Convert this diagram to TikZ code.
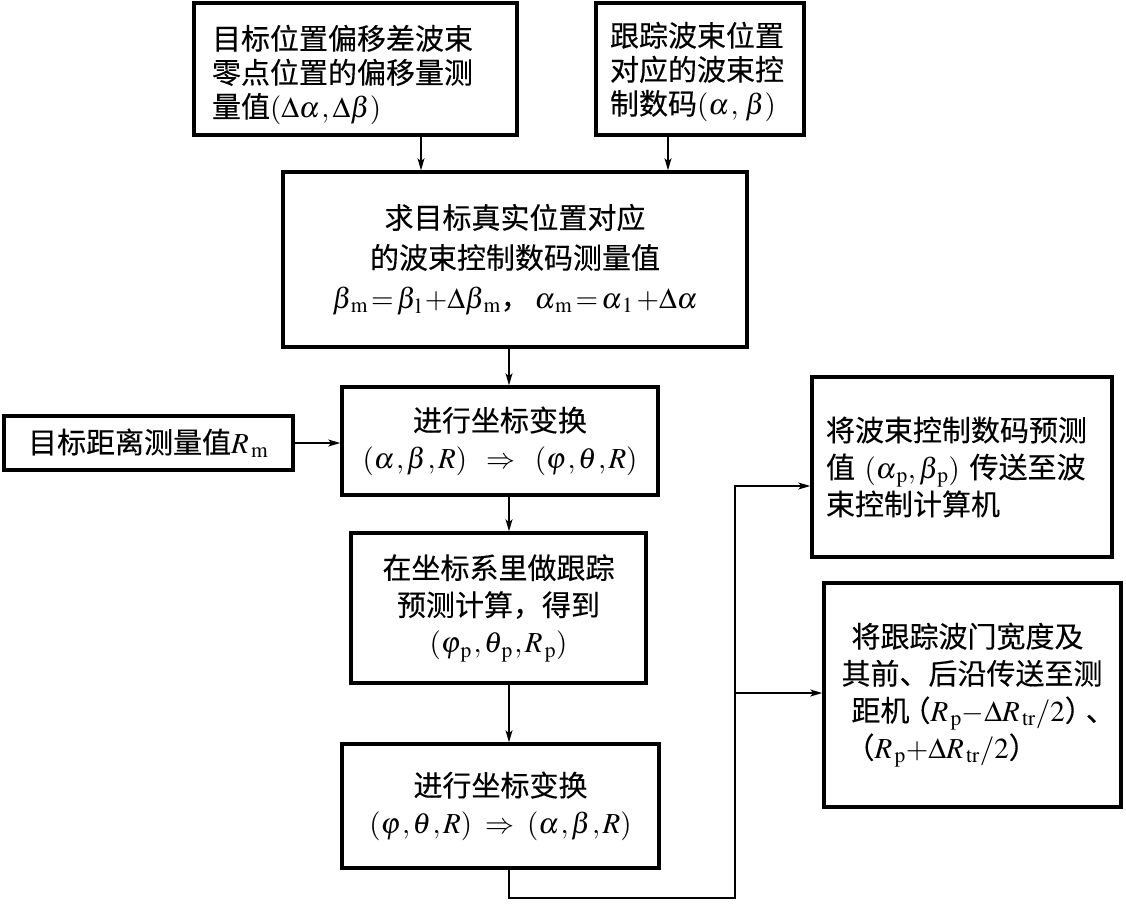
\documentclass[tikz,border=0pt]{standalone}
\usepackage{mathptmx}
\usepackage{fontspec}
\setmainfont{Liberation Serif}
\newfontfamily\cjk[FakeBold=0.3]{Noto Sans CJK SC}
\usetikzlibrary{positioning,arrows.meta}
\newcommand\lowidx[1]{_{\mkern2mu\mathrm{#1}}}
\newcommand\tcomma{\mkern1mu{,}\mkern1.5mu}

\begin{document}
\begin{tikzpicture}[
    x=1pt, y=-1pt,
    box/.style={
        draw,
        rectangle,
        line width=3.5pt,
        inner xsep=14pt,
        align=center,
        font=\cjk\fontsize{29}{37}\selectfont
    },
    arrow/.style={-{Stealth[length=12pt,width=7pt,inset=3pt]}, line width=1.3pt}
]
\useasboundingbox (0,0) rectangle (1126,903);

\node[box, minimum width=323pt, minimum height=132pt, text width=287pt, align=left,
    font=\cjk\fontsize{29}{34}\selectfont] (offset) at (355.5,69) {
\rule{0pt}{36pt}目标位置偏移差波束\\
零点位置的偏移量测\\
量值$(\Delta\alpha\mkern1mu,\Delta\beta)$
};

\node[box, minimum width=206pt, minimum height=132pt, text width=180pt, align=left,
    font=\cjk\fontsize{29}{34}\selectfont] (beamcode) at (700,69) {
\rule{0pt}{30pt}跟踪波束位置\\
对应的波束控\\
制数码$(\alpha\mkern1mu,\,\beta)$
};

\node[box, minimum width=464pt, minimum height=175pt,
    font=\cjk\fontsize{29}{40}\selectfont] (measure) at (515,259.5) {
求目标真实位置对应\\
的波束控制数码测量值\\
$\beta\lowidx{m}\mkern2mu{=}\mkern2mu\beta\lowidx{l}\mkern2mu{+}\Delta\beta\lowidx{m}$，\,$\alpha\lowidx{m}\mkern2mu{=}\mkern2mu\alpha\lowidx{1}\mkern2mu{+}\Delta\alpha$
};

\node[box, minimum width=289pt, minimum height=54pt] (range) at (148.5,443) {
\hspace*{6pt}目标距离测量值$R\lowidx{m}$
};

\node[box, minimum width=316pt, minimum height=108pt] (convert) at (500,441) {
进行坐标变换\\
$(\alpha\tcomma\beta\tcomma R)\;~\Rightarrow~\;(\varphi\tcomma\theta\tcomma R)$
};

\node[box, minimum width=295pt, minimum height=150pt] (predict) at (498.5,608) {
在坐标系里做跟踪\\
预测计算，得到\\
$(\varphi\lowidx{p}\tcomma\theta\lowidx{p}\tcomma R\lowidx{p})$
};

\node[box, minimum width=317pt, minimum height=124pt] (reconvert) at (500.5,806) {
进行坐标变换\\
$(\varphi\tcomma\theta\tcomma R)~\Rightarrow~(\alpha\tcomma\beta\tcomma R)$
};

\node[box, minimum width=298pt, minimum height=180pt, text width=272pt, align=left] (sendbeam) at (962,467) {
将波束控制数码预测\\
值~$(\alpha\lowidx{p},\beta\lowidx{p})$~传送至波\\
束控制计算机
};

\node[box, minimum width=297pt, minimum height=224pt, text width=262pt, align=left] (sendgate) at (972.5,695) {
\hspace*{10pt}将跟踪波门宽度及\\
其前、后沿传送至测\\
\hspace*{10pt}距机\kern-8pt（$R\lowidx{p}{-}\Delta R\lowidx{tr}/2$）\kern-8pt、\\
\hspace*{4pt}（$R\lowidx{p}{+}\Delta R\lowidx{tr}/2$）
};

\coordinate (corner) at (735,898);
\coordinate (branch) at (735,693);

\draw[arrow] ([xshift=65.5pt]offset.south) -- ([xshift=65.5pt]offset.south |- measure.north);
\draw[arrow] ([xshift=-32pt]beamcode.south) -- ([xshift=-32pt]beamcode.south |- measure.north);
\draw[arrow] ([xshift=-6pt]measure.south) -- ([xshift=-6pt]measure.south |- convert.north);
\draw[arrow] (range.east) -- (range.east -| convert.west);
\draw[arrow] ([xshift=9pt]convert.south) -- ([xshift=9pt]convert.south |- predict.north);
\draw[arrow] ([xshift=10.5pt]predict.south) -- ([xshift=10.5pt]predict.south |- reconvert.north);
\draw[arrow] ([xshift=8.5pt]reconvert.south) |- (corner) |- ([yshift=-19pt]sendbeam.west);
\draw[arrow] (branch) -- (branch -| sendgate.west);

\end{tikzpicture}
\end{document}
